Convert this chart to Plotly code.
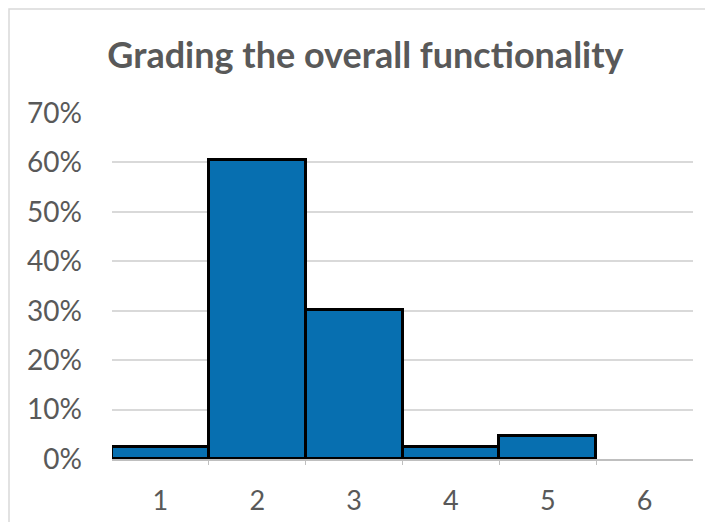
import plotly.graph_objects as go

categories = [1, 2, 3, 4, 5, 6]
values = [0.0233, 0.6047, 0.3023, 0.0233, 0.0465, 0.0]
y_ticks = [0, 0.1, 0.2, 0.3, 0.4, 0.5, 0.6, 0.7]
y_tick_labels = ["0%", "10%", "20%", "30%", "40%", "50%", "60%", "70%"]

plot_vals = [v if v > 0 else None for v in values]

W, H = 697, 514
L, R, T, B = 104, 12, 105, 63
pw, ph = W - L - R, H - T - B

bx0 = -(L - 1) / pw
bx1 = 1 + (R + 20) / pw
by0 = -(B + 20) / ph
by1 = 1 + (T - 1) / ph

fig = go.Figure()
fig.add_trace(go.Bar(
    x=categories, y=plot_vals, width=1,
    marker=dict(color="#076FB0", line=dict(color="#000000", width=3)),
))

fig.update_layout(
    width=W, height=H,
    margin=dict(l=L, r=R, t=T, b=B, autoexpand=False),
    paper_bgcolor="white", plot_bgcolor="white",
    showlegend=False, bargap=0,
    title=dict(text="<b>Grading the overall functionality</b>", x=(365.5 - 8) / W, xanchor="center",
               y=1 - 47 / H, yanchor="middle",
               font=dict(family="Lato", size=36, color="#595959")),
    font=dict(family="Lato", color="#595959"),
    xaxis=dict(range=[0.5, 6.5], tickvals=categories, ticktext=[str(c) for c in categories],
               automargin=False,
               showgrid=False, zeroline=False, showline=True, linecolor="#BFBFBF", linewidth=1.5,
               ticks="", ticklabelstandoff=17, tickfont=dict(size=27, color="#595959"),
               minor=dict(tickvals=[1.5, 2.5, 3.5, 4.5, 5.5], ticks="outside", ticklen=4,
                          tickcolor="#BFBFBF", tickwidth=1)),
    yaxis=dict(range=[0, 0.7], tickvals=y_ticks, ticktext=y_tick_labels,
               automargin=False,
               showgrid=True, gridcolor="#D9D9D9", gridwidth=1.5, zeroline=False,
               showline=False, ticks="", ticklabelstandoff=29,
               tickfont=dict(size=28, color="#595959")),
    shapes=[dict(type="path", xref="paper", yref="paper",
                 path=f"M {bx0},{by0} L {bx0},{by1} L {bx1},{by1}",
                 line=dict(color="#D9D9D9", width=1.5), layer="below")],
)

fig.write_html("out.html")
